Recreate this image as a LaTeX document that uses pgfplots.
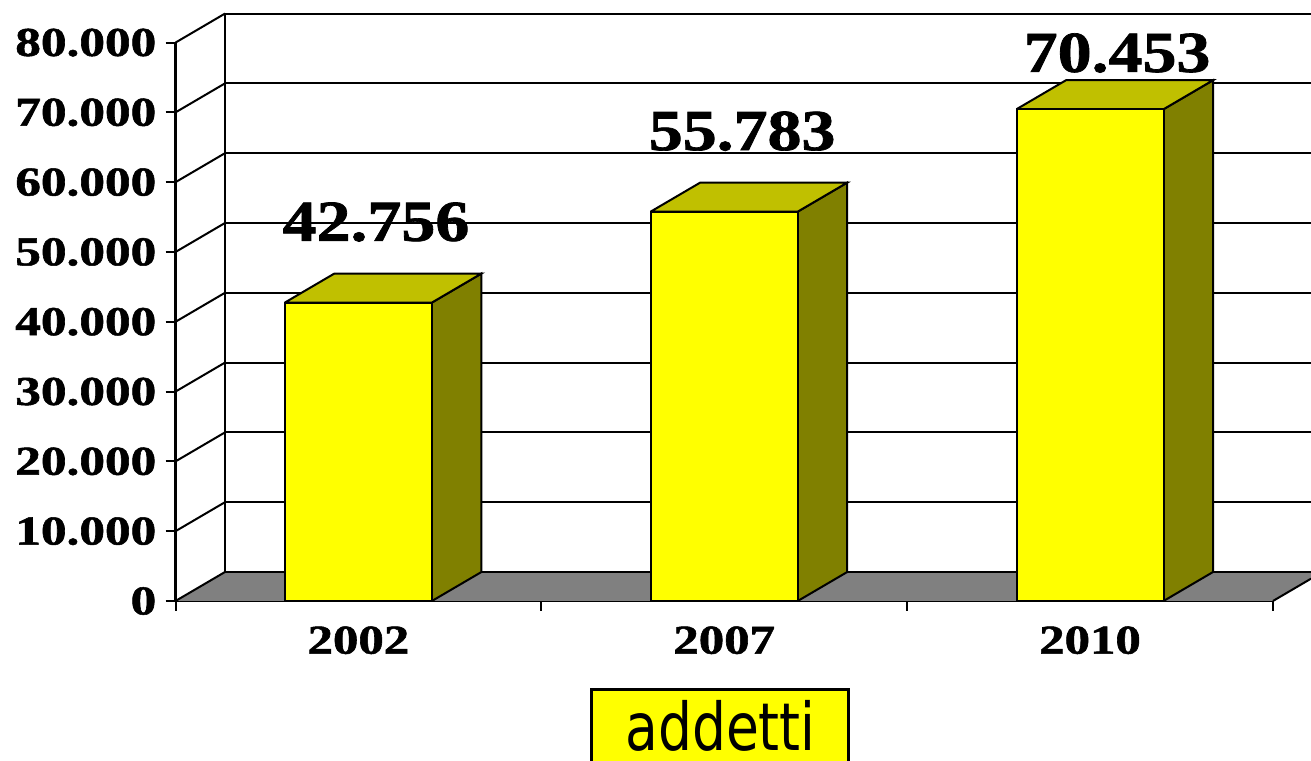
\documentclass[border=0pt]{standalone}
\usepackage{pgfplots}
\pgfplotsset{compat=1.18}
\usepackage{fontspec}
\setmainfont{Liberation Serif}[BoldFeatures={FakeBold=1.2}]
\newfontfamily\sansf{DejaVu Sans}
\definecolor{barfront}{RGB}{255,255,0}
\definecolor{bartop}{RGB}{192,192,0}
\definecolor{barside}{RGB}{128,128,0}
\definecolor{floorgray}{RGB}{128,128,128}
\begin{document}
\begin{tikzpicture}
\begin{axis}[
  x=182.9pt, y=3.49pt,
  xmin=-0.5, xmax=2.5, ymin=0, ymax=80,
  clip=false,
  axis lines=left,
  axis line style={-, line width=1.5pt},
  tick align=outside,
  major tick length=5pt,
  tick style={black, line width=1pt},
  ytick={0,10,20,30,40,50,60,70,80},
  yticklabels={0,10.000,20.000,30.000,40.000,50.000,60.000,70.000,80.000},
  yticklabel style={font=\fontsize{20.5pt}{20.5pt}\selectfont\bfseries, xscale=1.25, anchor=east, inner sep=0pt, xshift=-3.5pt},
  xtick={-0.5,0.5,1.5,2.5},
  xticklabels={,,,},
  extra x ticks={0,1,2},
  extra x tick labels={2002,2007,2010},
  extra x tick style={major tick length=0pt, xticklabel style={font=\fontsize{20.5pt}{20.5pt}\selectfont\bfseries, xscale=1.24, anchor=north, inner sep=0pt, yshift=-12.5pt}},
  no markers,
]
% floor
\fill[floorgray] (axis cs:-0.5,0) -- (axis cs:2.5,0) -- (axis cs:2.6041,3.197) -- (axis cs:2.6041,4.155) -- (axis cs:-0.3647,4.155) -- cycle;
\draw[line width=1pt] (axis cs:2.5,0) -- (axis cs:2.6041,3.197);
% back wall vertical and gridlines
\draw[line width=1pt] (axis cs:-0.3647,4.155) -- (axis cs:-0.3647,84.155);
\draw[line width=1pt] (axis cs:-0.3647,4.155) -- (axis cs:2.6041,4.155);
\draw[line width=1pt] (axis cs:-0.3647,14.155) -- (axis cs:2.6041,14.155);
\draw[line width=1pt] (axis cs:-0.3647,24.155) -- (axis cs:2.6041,24.155);
\draw[line width=1pt] (axis cs:-0.3647,34.155) -- (axis cs:2.6041,34.155);
\draw[line width=1pt] (axis cs:-0.3647,44.155) -- (axis cs:2.6041,44.155);
\draw[line width=1pt] (axis cs:-0.3647,54.155) -- (axis cs:2.6041,54.155);
\draw[line width=1pt] (axis cs:-0.3647,64.155) -- (axis cs:2.6041,64.155);
\draw[line width=1pt] (axis cs:-0.3647,74.155) -- (axis cs:2.6041,74.155);
\draw[line width=1pt] (axis cs:-0.3647,84.155) -- (axis cs:2.6041,84.155);
% left wall slants
\draw[line width=1pt] (axis cs:-0.5,0) -- (axis cs:-0.3647,4.155);
\draw[line width=1pt] (axis cs:-0.5,10) -- (axis cs:-0.3647,14.155);
\draw[line width=1pt] (axis cs:-0.5,20) -- (axis cs:-0.3647,24.155);
\draw[line width=1pt] (axis cs:-0.5,30) -- (axis cs:-0.3647,34.155);
\draw[line width=1pt] (axis cs:-0.5,40) -- (axis cs:-0.3647,44.155);
\draw[line width=1pt] (axis cs:-0.5,50) -- (axis cs:-0.3647,54.155);
\draw[line width=1pt] (axis cs:-0.5,60) -- (axis cs:-0.3647,64.155);
\draw[line width=1pt] (axis cs:-0.5,70) -- (axis cs:-0.3647,74.155);
\draw[line width=1pt] (axis cs:-0.5,80) -- (axis cs:-0.3647,84.155);
% bar side faces
\addplot[fill=barside, draw=black, line width=1pt] coordinates {(0.201,0) (0.3363,4.155) (0.3363,46.911) (0.201,42.756) (0.201,0)};
\addplot[fill=barside, draw=black, line width=1pt] coordinates {(1.201,0) (1.3363,4.155) (1.3363,59.938) (1.201,55.783) (1.201,0)};
\addplot[fill=barside, draw=black, line width=1pt] coordinates {(2.201,0) (2.3363,4.155) (2.3363,74.608) (2.201,70.453) (2.201,0)};
% bar top faces
\addplot[fill=bartop, draw=black, line width=1pt] coordinates {(-0.201,42.756) (0.201,42.756) (0.3363,46.911) (-0.0657,46.911) (-0.201,42.756)};
\addplot[fill=bartop, draw=black, line width=1pt] coordinates {(0.799,55.783) (1.201,55.783) (1.3363,59.938) (0.9343,59.938) (0.799,55.783)};
\addplot[fill=bartop, draw=black, line width=1pt] coordinates {(1.799,70.453) (2.201,70.453) (2.3363,74.608) (1.9343,74.608) (1.799,70.453)};
% bar front faces
\addplot[ybar, bar width=0.402, fill=barfront, draw=black, line width=1pt] coordinates {(0,42.756) (1,55.783) (2,70.453)};
% value labels
\node[anchor=base, font=\fontsize{29pt}{29pt}\selectfont\bfseries, xscale=1.17, inner sep=0pt] at (axis cs:0.048,51.6) {42.756};
\node[anchor=base, font=\fontsize{29pt}{29pt}\selectfont\bfseries, xscale=1.17, inner sep=0pt] at (axis cs:1.049,64.6) {55.783};
\node[anchor=base, font=\fontsize{29pt}{29pt}\selectfont\bfseries, xscale=1.17, inner sep=0pt] at (axis cs:2.074,75.8) {70.453};
% legend box (cut by the lower edge, as in the reference)
\fill[barfront] (axis cs:0.6385,-12.61) rectangle (axis cs:1.3409,-26);
\draw[line width=1.5pt] (axis cs:0.6385,-26) -- (axis cs:0.6385,-12.61) -- (axis cs:1.3409,-12.61) -- (axis cs:1.3409,-26);
\node[anchor=base, inner sep=0pt, font=\sansf\fontsize{33pt}{33pt}\selectfont] at (axis cs:0.99,-21.4) {\scalebox{0.81}[1]{addetti}};
\coordinate (BL) at (axis cs:-0.9798,-22.92);
\coordinate (TR) at (axis cs:2.6041,86.10);
\end{axis}
\pgfresetboundingbox
\path[use as bounding box] (BL) rectangle (TR);
\end{tikzpicture}
\end{document}
